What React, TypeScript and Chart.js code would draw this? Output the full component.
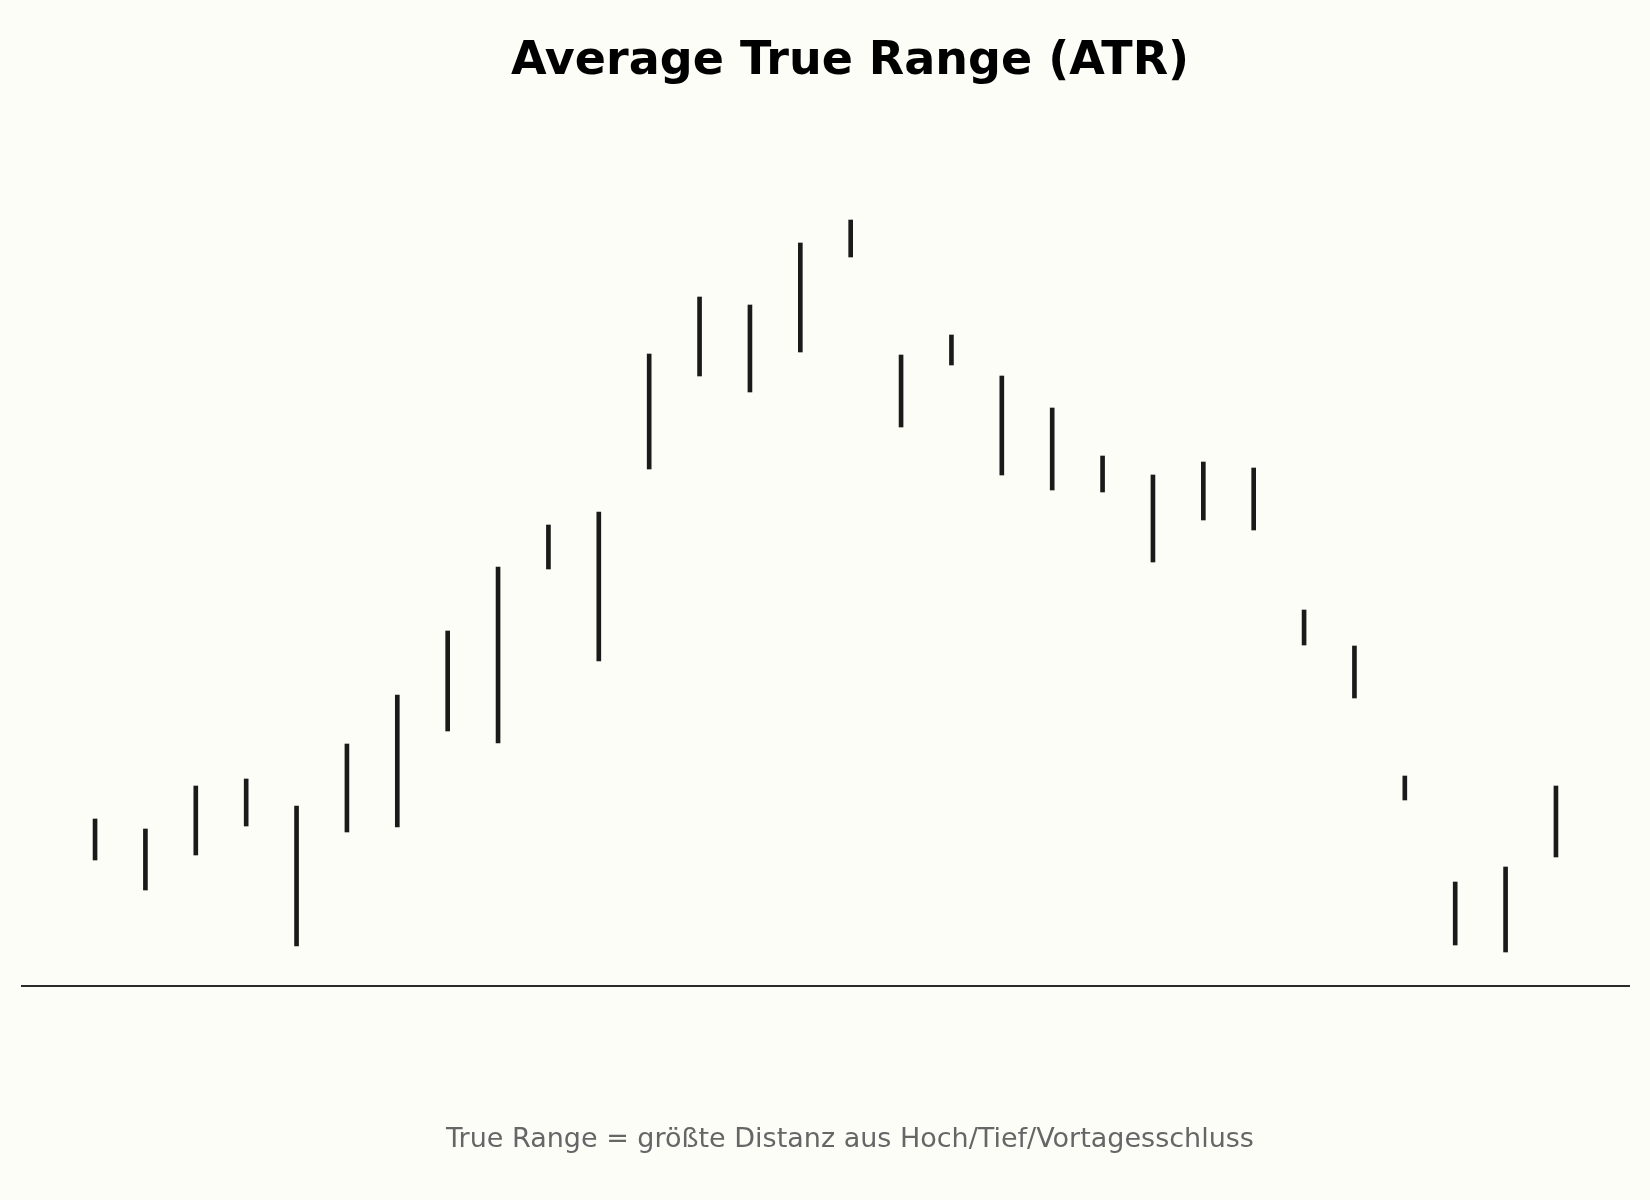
import { useEffect, useRef } from "react";
import { Chart, registerables } from "chart.js";

Chart.register(...registerables);

// trading days (index on the x axis)
const days = [
  0, 1, 2, 3, 4, 5, 6, 7, 8, 9, 10, 11, 12, 13, 14,
  15, 16, 17, 18, 19, 20, 21, 22, 23, 24, 25, 26, 27, 28, 29,
];

const highs = [
  116.7, 115.7, 120.0, 120.7, 118.0, 124.2, 129.1, 135.5, 141.9, 146.1,
  147.4, 163.2, 168.9, 168.1, 174.3, 176.6, 163.1, 165.1, 161.0, 157.8,
  153.0, 151.1, 152.4, 151.8, 137.6, 134.0, 121.0, 110.4, 111.9, 120.0,
];

const lows = [
  112.6, 109.6, 113.1, 116.0, 104.0, 115.4, 115.9, 125.5, 124.3, 141.7,
  132.5, 151.7, 161.0, 159.4, 163.4, 172.9, 155.9, 162.1, 151.1, 149.6,
  149.4, 142.4, 146.6, 145.6, 134.1, 128.8, 118.6, 104.1, 103.4, 112.9,
];

const TITLE = "Average True Range (ATR)";
const FOOTER = "True Range = größte Distanz aus Hoch/Tief/Vortagesschluss";

export default function App() {
  const chartRef = useRef<HTMLCanvasElement | null>(null);

  useEffect(() => {
    const canvas = chartRef.current;
    if (!canvas) return;

    const chart = new Chart(canvas, {
      type: "bar",
      data: {
        datasets: [
          {
            label: "Range",
            data: days.map((d, i) => ({ x: d, y: [lows[i], highs[i]] })) as any,
            backgroundColor: "#1a1a1a",
            borderWidth: 0,
            barThickness: 4,
          },
        ],
      },
      options: {
        responsive: false,
        animation: false,
        devicePixelRatio: 1,
        layout: {
          padding: { left: 22, right: 21, top: 136, bottom: 214 },
        },
        plugins: {
          legend: { display: false },
          tooltip: { enabled: false },
        },
        scales: {
          x: {
            type: "linear",
            min: -1.45,
            max: 30.45,
            offset: false,
            grid: { display: false, drawTicks: false },
            ticks: { display: false },
            border: { display: true, color: "#2b2b2b", width: 2 },
          },
          y: {
            display: false,
            min: 100,
            max: 185,
          },
        },
      },
    });

    return () => {
      chart.destroy();
    };
  }, []);

  const textStyle = {
    position: "absolute" as const,
    left: 0,
    width: 1700,
    margin: 0,
    textAlign: "center" as const,
    whiteSpace: "nowrap" as const,
    fontFamily: "DejaVu Sans",
    lineHeight: "normal",
  };

  return (
    <div
      style={{
        position: "fixed",
        left: 0,
        top: 0,
        width: 1650,
        height: 1200,
        overflow: "hidden",
        background: "#fdfdf8",
      }}
    >
      <canvas ref={chartRef} width={1650} height={1200} style={{ display: "block" }} />
      <div style={{ ...textStyle, top: 31, fontSize: 46, fontWeight: "bold", color: "#000000" }}>
        {TITLE}
      </div>
      <div style={{ ...textStyle, top: 1121.5, fontSize: 27, color: "#666666" }}>
        {FOOTER}
      </div>
    </div>
  );
}
